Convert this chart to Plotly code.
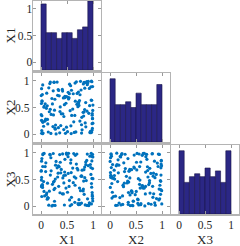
import numpy as np
import plotly.graph_objects as go

# ---- data (150 samples of three variables) ----
X1 = [
    0.47, 0.12, 0.88, 0.03, 0.65, 0.31, 0.94, 0.22, 0.76, 0.58,
    0.83, 0.36, 0.05, 0.71, 0.29, 0.97, 0.54, 0.14, 0.42, 0.68,
    0.19, 0.62, 0.45, 0.91, 0.07, 0.78, 0.33, 0.86, 0.25, 0.51,
    0.74, 0.09, 0.57, 0.26, 0.98, 0.41, 0.13, 0.69, 0.35, 0.82,
    0.28, 0.93, 0.16, 0.64, 0.52, 0.02, 0.87, 0.39, 0.73, 0.46,
    0.55, 0.37, 0.79, 0.11, 0.44, 0.66, 0.23, 0.96, 0.01, 0.84,
    0.92, 0.04, 0.32, 0.48, 0.85, 0.17, 0.61, 0.27, 0.53, 0.77,
    0.06, 0.72, 0.24, 0.89, 0.38, 0.56, 0.95, 0.43, 0.15, 0.63,
    0.67, 0.21, 0.99, 0.34, 0.08, 0.49, 0.75, 0.18, 0.81, 0.59,
    0.415, 0.885, 0.655, 0.035, 0.275, 0.195, 0.725, 0.545, 0.335, 0.965,
    0.125, 0.575, 0.935, 0.455, 0.815, 0.015, 0.235, 0.365, 0.695, 0.785,
    0.005, 0.985, 0.012, 0.178, 0.992, 0.021, 0.748, 0.978, 0.008, 0.862,
    0.995, 0.033, 0.267, 0.988, 0.017, 0.523, 0.971, 0.058, 0.842, 0.997,
    0.011, 0.438, 0.982, 0.026, 0.713, 0.991, 0.104, 0.004, 0.895, 0.975,
    0.984, 0.019, 0.586, 0.093, 0.959, 0.252, 0.779, 0.493, 0.826, 0.998,
]
X2 = [
    0.014, 0.532, 0.987, 0.006, 0.351, 0.979, 0.027, 0.568, 0.994, 0.009,
    0.972, 0.022, 0.147, 0.515, 0.003, 0.996, 0.684, 0.038, 0.382, 0.983,
    0.011, 0.759, 0.553, 0.991, 0.241, 0.018, 0.837, 0.592, 0.977, 0.045,
    0.63, 0.28, 0.91, 0.45, 0.07, 0.84, 0.19, 0.56, 0.72, 0.34,
    0.17, 0.86, 0.42, 0.03, 0.69, 0.25, 0.97, 0.38, 0.54, 0.71,
    0.94, 0.51, 0.08, 0.77, 0.33, 0.62, 0.14, 0.89, 0.26, 0.46,
    0.39, 0.02, 0.73, 0.58, 0.21, 0.95, 0.47, 0.11, 0.66, 0.83,
    0.52, 0.79, 0.36, 0.93, 0.16, 0.44, 0.05, 0.68, 0.87, 0.23,
    0.04, 0.67, 0.29, 0.82, 0.57, 0.13, 0.74, 0.98, 0.41, 0.35,
    0.81, 0.43, 0.96, 0.22, 0.09, 0.37, 0.59, 0.76, 0.12, 0.64,
    0.275, 0.155, 0.535, 0.685, 0.945, 0.065, 0.815, 0.425, 0.765, 0.315,
    0.725, 0.385, 0.015, 0.465, 0.895, 0.615, 0.245, 0.985, 0.575, 0.135,
    0.445, 0.925, 0.655, 0.105, 0.345, 0.785, 0.035, 0.505, 0.865, 0.205,
    0.855, 0.085, 0.195, 0.745, 0.595, 0.295, 0.485, 0.365, 0.955, 0.635,
    0.355, 0.625, 0.825, 0.265, 0.025, 0.975, 0.175, 0.705, 0.415, 0.545,
]
X3 = [
    0.58, 0.13, 0.86, 0.35, 0.07, 0.72, 0.94, 0.41, 0.29, 0.63,
    0.22, 0.97, 0.46, 0.68, 0.84, 0.04, 0.37, 0.15, 0.53, 0.79,
    0.91, 0.44, 0.02, 0.76, 0.19, 0.57, 0.62, 0.83, 0.31, 0.26,
    0.34, 0.65, 0.81, 0.09, 0.52, 0.23, 0.16, 0.98, 0.74, 0.47,
    0.77, 0.06, 0.28, 0.55, 0.93, 0.39, 0.48, 0.69, 0.12, 0.88,
    0.115, 0.825, 0.675, 0.245, 0.435, 0.955, 0.015, 0.595, 0.365, 0.735,
    0.008, 0.985, 0.547, 0.338, 0.021, 0.973, 0.716, 0.012, 0.994, 0.563,
    0.991, 0.034, 0.452, 0.979, 0.625, 0.005, 0.783, 0.229, 0.017, 0.988,
    0.526, 0.003, 0.976, 0.371, 0.744, 0.996, 0.046, 0.583, 0.284, 0.029,
    0.982, 0.011, 0.392, 0.967, 0.508, 0.663, 0.024, 0.479, 0.757, 0.993,
    0.43, 0.87, 0.05, 0.64, 0.32, 0.18, 0.99, 0.25, 0.71, 0.56,
    0.67, 0.21, 0.54, 0.96, 0.14, 0.38, 0.03, 0.85, 0.49, 0.78,
    0.095, 0.745, 0.335, 0.185, 0.895, 0.615, 0.425, 0.275, 0.535, 0.925,
    0.845, 0.575, 0.935, 0.405, 0.045, 0.705, 0.215, 0.655, 0.135, 0.355,
    0.255, 0.385, 0.165, 0.815, 0.725, 0.465, 0.055, 0.975, 0.685, 0.515,
]
names = ["X1", "X2", "X3"]
tick_vals = [0, 0.5, 1]
tick_text = ["0", "0.5", "1"]

# ---- style ----
W, H = 240, 246
BAR = "#2B2785"
BAR_EDGE = "#1a1448"
DOT = "#0072BD"
FRAME = "#b4b4b4"
FONT = "Liberation Serif, Times New Roman, serif"
TXT = "#262626"
RNG = [-0.15, 1.15]

col_px = [(33.2, 100.8), (102.2, 169.8), (171.2, 238.8)]
row_px = [(1, 70), (73, 142), (145, 214)]
def xdom(c):
    a, b = col_px[c]
    return [a / W, b / W]
def ydom(r):
    a, b = row_px[r]
    return [(H - b) / H, (H - a) / H]

data = [X1, X2, X3]
max_count = max(np.histogram(d, bins=10, range=(0, 1))[0].max() for d in data)

fig = go.Figure()
layout = {}
base_ax = dict(showline=True, linecolor=FRAME, linewidth=1.5, mirror="ticks",
               ticks="inside", ticklen=3, tickcolor="#999999", tickwidth=1,
               showgrid=False, zeroline=False, tickvals=tick_vals, ticktext=tick_text,
               tickfont=dict(family=FONT, size=11.5, color=TXT),
               automargin=False, fixedrange=True)

ax_id = 0
for r in range(3):
    for c in range(r + 1):
        ax_id += 1
        xn = "x" if ax_id == 1 else f"x{ax_id}"
        yn = "y" if ax_id == 1 else f"y{ax_id}"
        xkey = "xaxis" if ax_id == 1 else f"xaxis{ax_id}"
        ykey = "yaxis" if ax_id == 1 else f"yaxis{ax_id}"
        xa = dict(base_ax, domain=xdom(c), anchor=yn, range=RNG,
                  showticklabels=(r == 2))
        if r == c:
            fig.add_trace(go.Histogram(
                x=data[c], xaxis=xn, yaxis=yn,
                xbins=dict(start=0, end=1, size=0.1), autobinx=False,
                marker=dict(color=BAR, line=dict(color=BAR_EDGE, width=0.6)),
                hoverinfo="skip", showlegend=False))
            ya = dict(showline=True, linecolor=FRAME, linewidth=1.5, mirror=True,
                      ticks="", showticklabels=False, showgrid=False, zeroline=False,
                      automargin=False, domain=ydom(r), anchor=xn,
                      range=[0, max_count], fixedrange=True)
        else:
            fig.add_trace(go.Scatter(
                x=data[c], y=data[r], xaxis=xn, yaxis=yn, mode="markers",
                marker=dict(color=DOT, size=3.2, line=dict(width=0)),
                hoverinfo="skip", showlegend=False))
            ya = dict(base_ax, domain=ydom(r), anchor=xn, range=RNG,
                      showticklabels=(c == 0))
        layout[xkey] = xa
        layout[ykey] = ya

# value-scale axis for the top-left histogram row labels
fig.add_trace(go.Scatter(x=[None], y=[None], xaxis="x", yaxis="y7",
                         mode="markers", hoverinfo="skip", showlegend=False))
layout["yaxis7"] = dict(base_ax, showline=False, overlaying="y", anchor="x", side="left",
                        range=RNG)

# axis names as text placed beside the panels
annots = []
for i, nm in enumerate(names):
    a, b = col_px[i]
    annots.append(dict(text=nm, x=(a + b) / 2 / W, y=(H - 239.5) / H, xref="paper", yref="paper",
                       xanchor="center", yanchor="middle", showarrow=False,
                       font=dict(family=FONT, size=13, color=TXT)))
    a, b = row_px[i]
    annots.append(dict(text=nm, x=10 / W, y=(H - (a + b) / 2) / H, xref="paper", yref="paper",
                       xanchor="center", yanchor="middle", showarrow=False, textangle=-90,
                       font=dict(family=FONT, size=13, color=TXT)))

fig.update_layout(**layout)
fig.update_layout(width=W, height=H, margin=dict(l=0, r=0, t=0, b=0),
                  paper_bgcolor="white", plot_bgcolor="white",
                  bargap=0, showlegend=False, annotations=annots)
fig.write_html("out.html", config={"displayModeBar": False, "staticPlot": True},
               post_script="document.body.style.margin='0';document.body.style.overflow='hidden';")
